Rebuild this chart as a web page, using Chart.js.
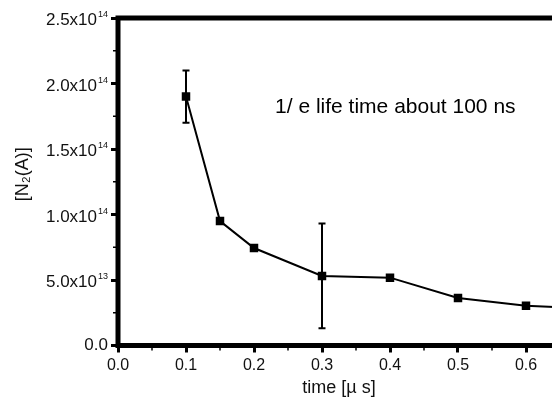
<!DOCTYPE html>
<html><head><meta charset="utf-8">
<script src="https://cdn.jsdelivr.net/npm/chart.js@4/dist/chart.umd.min.js"></script>
<style>
html,body{margin:0;padding:0;background:#fff;overflow:hidden}
#wrap{width:552px;height:399px;overflow:hidden;position:relative}
#c{display:block}
</style></head><body>
<div id="wrap"><canvas id="c" width="600" height="399"></canvas></div>
<script>
// ---- data ----
const times = [0.1, 0.15, 0.2, 0.3, 0.4, 0.5, 0.6, 0.7];
const n2a = [1.90e14, 9.50e13, 7.44e13, 5.31e13, 5.18e13, 3.63e13, 3.04e13, 2.80e13];
const n2aErr = [2.0e13, 0, 0, 4.0e13, 0, 0, 0, 0];
const xTickValues = [0, 0.1, 0.2, 0.3, 0.4, 0.5, 0.6];
const xTickLabels = ['0.0', '0.1', '0.2', '0.3', '0.4', '0.5', '0.6'];
const yTickValues = [0, 5e13, 1e14, 1.5e14, 2e14, 2.5e14];
const yTickMantissa = ['0.0', '5.0x10', '1.0x10', '1.5x10', '2.0x10', '2.5x10'];
const yTickExponent = ['', '13', '14', '14', '14', '14'];
const xTitle = 'time [\u00B5 s]';
const yTitle = '   [N\u2082(A)]';
const noteText = '1/ e life time about 100 ns';
const noteAt = {x: 0.231, y: 1.82e14};

const FONT = 'Liberation Sans, Arial, sans-serif';

const extras = {
  id: 'extras',
  beforeDatasetsDraw(chart) {
    const {ctx} = chart;
    const xs = chart.scales.x, ys = chart.scales.y;
    ctx.save();
    ctx.strokeStyle = '#000';
    ctx.lineWidth = 2;
    times.forEach((t, i) => {
      const e = n2aErr[i];
      if (!e) return;
      const px = xs.getPixelForValue(t);
      const top = ys.getPixelForValue(n2a[i] + e);
      const bot = ys.getPixelForValue(n2a[i] - e);
      ctx.beginPath();
      ctx.moveTo(px, top); ctx.lineTo(px, bot);
      ctx.moveTo(px - 3.5, top); ctx.lineTo(px + 3.5, top);
      ctx.moveTo(px - 3.5, bot); ctx.lineTo(px + 3.5, bot);
      ctx.stroke();
    });
    ctx.restore();
  },
  afterDatasetsDraw(chart) {
    const {ctx, chartArea: a} = chart;
    const xs = chart.scales.x, ys = chart.scales.y;
    ctx.save();
    // minor ticks
    ctx.strokeStyle = '#000';
    ctx.lineWidth = 1.5;
    ctx.beginPath();
    for (let i = 0; i < xTickValues.length; i++) {
      const v = xTickValues[i] + 0.05;
      if (v > xs.max) break;
      const px = xs.getPixelForValue(v);
      ctx.moveTo(px, a.bottom); ctx.lineTo(px, a.bottom + 5);
    }
    for (let i = 0; i < yTickValues.length - 1; i++) {
      const v = yTickValues[i] + 2.5e13;
      const py = ys.getPixelForValue(v);
      ctx.moveTo(a.left, py); ctx.lineTo(a.left - 5, py);
    }
    ctx.stroke();
    // frame
    ctx.lineWidth = 5;
    ctx.strokeRect(a.left, a.top, a.right - a.left, a.bottom - a.top);
    // y tick labels with raised exponents
    ctx.fillStyle = '#111';
    ctx.textBaseline = 'alphabetic';
    ctx.textAlign = 'right';
    const rightEdge = a.left - 10;
    yTickValues.forEach((v, i) => {
      const py = ys.getPixelForValue(v);
      const exp = yTickExponent[i];
      if (exp) {
        ctx.font = '9px ' + FONT;
        const ew = ctx.measureText(exp).width;
        ctx.fillText(exp, rightEdge, py - 1);
        ctx.font = '17px ' + FONT;
        ctx.fillText(yTickMantissa[i], rightEdge - ew - 1, py + 7);
      } else {
        ctx.font = '17px ' + FONT;
        ctx.fillText(yTickMantissa[i], rightEdge, py + 4);
      }
    });
    // note
    ctx.fillStyle = '#000';
    ctx.font = '21px ' + FONT;
    ctx.textBaseline = 'middle';
    ctx.textAlign = 'left';
    ctx.fillText(noteText, xs.getPixelForValue(noteAt.x), ys.getPixelForValue(noteAt.y));
    ctx.restore();
  }
};

new Chart(document.getElementById('c'), {
  type: 'line',
  data: {
    datasets: [{
      data: times.map((t, i) => ({x: t, y: n2a[i]})),
      borderColor: '#000',
      borderWidth: 2,
      backgroundColor: '#000',
      pointStyle: 'rect',
      pointRadius: 6,
      pointBorderWidth: 0,
      pointBackgroundColor: '#000',
      tension: 0
    }]
  },
  options: {
    responsive: false,
    animation: false,
    devicePixelRatio: 1,
    layout: {padding: {top: 18, right: 40, left: 0, bottom: 0}},
    plugins: {legend: {display: false}, tooltip: {enabled: false}},
    scales: {
      x: {
        type: 'linear', min: 0, max: 0.65,
        afterBuildTicks: s => { s.ticks = xTickValues.map(v => ({value: v})); },
        afterFit: s => { s.height = 53.5; },
        grid: {drawOnChartArea: false, drawTicks: true, tickLength: 7, color: '#000', lineWidth: 3},
        border: {display: false},
        ticks: {
          font: {family: FONT, size: 16}, color: '#111', padding: 3, maxRotation: 0,
          callback: (v) => { const i = xTickValues.findIndex(t => Math.abs(t - v) < 1e-9); return i >= 0 ? xTickLabels[i] : ''; }
        },
        title: {display: true, text: xTitle, font: {family: FONT, size: 18}, color: '#111', padding: {top: 0, bottom: 0}}
      },
      y: {
        type: 'linear', min: 0, max: 2.5e14,
        afterBuildTicks: s => { s.ticks = yTickValues.map(v => ({value: v})); },
        afterFit: s => { s.width = 118; },
        grid: {drawOnChartArea: false, drawTicks: true, tickLength: 7, color: '#000', lineWidth: 3},
        border: {display: false},
        ticks: {display: false},
        title: {display: true, text: yTitle, font: {family: FONT, size: 18}, color: '#111', padding: {top: 12, bottom: 0}}
      }
    }
  },
  plugins: [extras]
});
</script>
</body></html>
